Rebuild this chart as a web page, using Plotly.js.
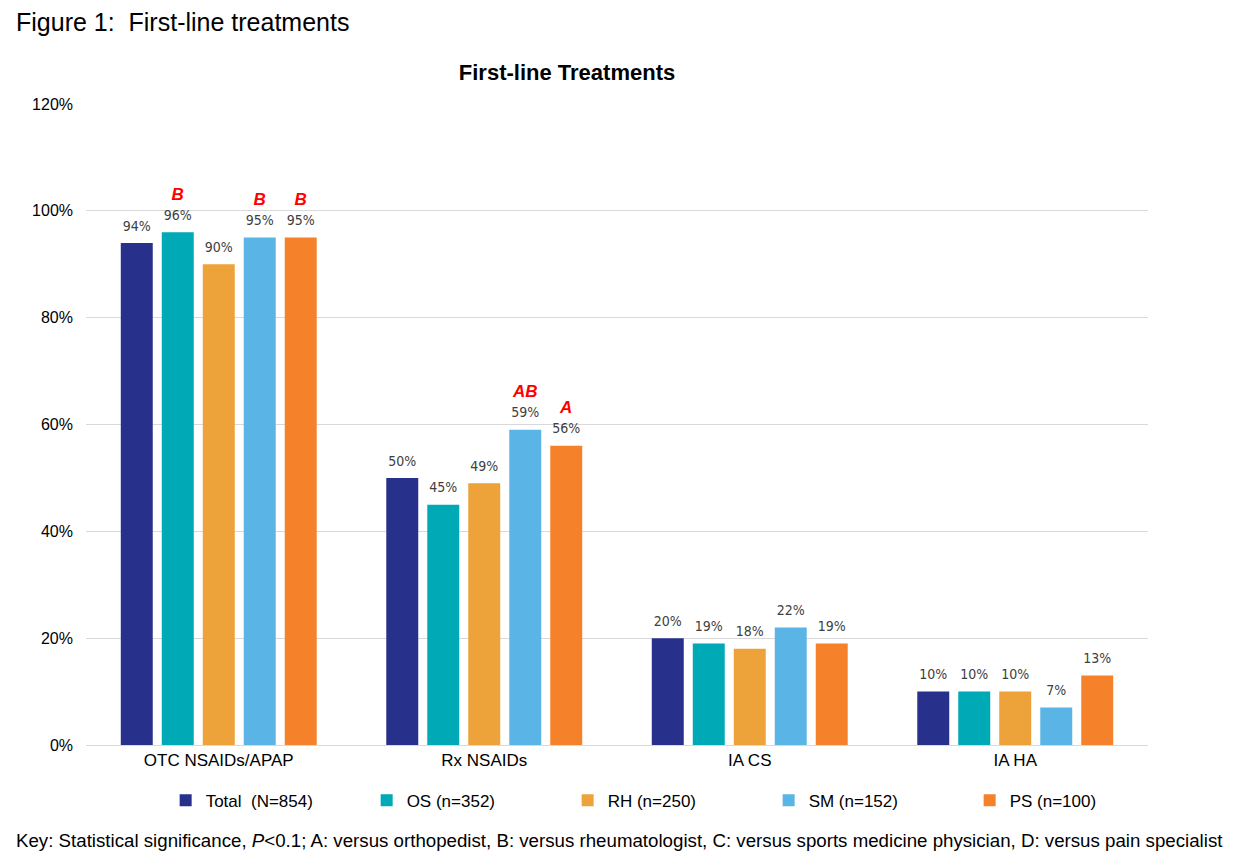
<!DOCTYPE html>
<html>
<head>
<meta charset="utf-8">
<script src="https://cdn.plot.ly/plotly-3.0.1.min.js"></script>
<style>html,body{margin:0;padding:0;background:#fff;}#chart{width:1244px;height:865px;}</style>
</head>
<body>
<div id="chart"></div>
<script>
const categories = ["OTC NSAIDs/APAP", "Rx NSAIDs", "IA CS", "IA HA"];
const seriesNames = ["Total\u00a0 (N=854)", "OS (n=352)", "RH (n=250)", "SM (n=152)", "PS (n=100)"];
const totalVals = [94, 50, 20, 10];
const osVals = [96, 45, 19, 10];
const rhVals = [90, 49, 18, 10];
const smVals = [95, 59, 22, 7];
const psVals = [95, 56, 19, 13];
const totalSig = ["", "", "", ""];
const osSig = ["B", "", "", ""];
const rhSig = ["", "", "", ""];
const smSig = ["B", "AB", "", ""];
const psSig = ["B", "A", "", ""];
const yTickVals = [0, 20, 40, 60, 80, 100, 120];
const yTickText = ["0%", "20%", "40%", "60%", "80%", "100%", "120%"];

const colors = ["#27318B", "#00A9B6", "#EEA23A", "#5AB5E6", "#F5812A"];
const allVals = [totalVals, osVals, rhVals, smVals, psVals];
const allSig = [totalSig, osSig, rhSig, smSig, psSig];

function labelText(v, s) {
  const pct = '<span style="font-size:14px">' + v + '%</span>';
  if (s) {
    return '<span style="color:#FF0000;font-size:17px;font-family:Liberation Sans"><b><i>' + s + '</i></b></span><br>' + pct;
  }
  return pct;
}

const barTraces = allVals.map((vals, i) => ({
  type: 'bar',
  name: seriesNames[i],
  x: categories,
  y: vals,
  offsetgroup: 'g' + i,
  marker: {color: colors[i]},
  hoverinfo: 'skip'
}));

const labelTraces = allVals.map((vals, i) => ({
  type: 'scatter',
  mode: 'markers+text',
  showlegend: false,
  x: categories,
  y: vals,
  offsetgroup: 'g' + i,
  marker: {size: 12, color: 'rgba(0,0,0,0)'},
  text: vals.map((v, j) => labelText(v, allSig[i][j])),
  textposition: 'top center',
  cliponaxis: false,
  textfont: {family: 'Liberation Sans Narrow, Arial Narrow, DejaVu Sans Condensed, sans-serif', size: 15.5, color: '#404040'},
  hoverinfo: 'skip'
}));

const layout = {
  width: 1244,
  height: 865,
  margin: {l: 86, r: 96, t: 104, b: 120},
  paper_bgcolor: '#ffffff',
  plot_bgcolor: '#ffffff',
  font: {family: 'Liberation Sans, Arial, sans-serif', color: '#000000'},
  barmode: 'group',
  bargap: 0.228,
  bargroupgap: 0.22,
  scattermode: 'group',
  scattergap: 0.228,
  showlegend: true,
  hovermode: false,
  title: {
    text: '<b>First-line Treatments</b>',
    font: {size: 22, color: '#000000', family: 'Liberation Sans, Arial, sans-serif'},
    xref: 'container', yref: 'container',
    x: 567 / 1244, xanchor: 'center',
    y: 1 - 72 / 865, yanchor: 'middle'
  },
  xaxis: {
    type: 'category',
    showgrid: false,
    showline: true,
    linecolor: '#D9D9D9',
    linewidth: 1,
    ticks: '',
    tickfont: {size: 17, color: '#000000'},
    fixedrange: true
  },
  yaxis: {
    range: [0, 120],
    tickvals: yTickVals,
    ticktext: yTickText,
    showgrid: true,
    gridcolor: '#D9D9D9',
    gridwidth: 1,
    zeroline: false,
    showline: false,
    ticks: '',
    ticklabelstandoff: 12,
    tickfont: {size: 16, color: '#000000'},
    fixedrange: true
  },
  legend: {
    orientation: 'h',
    x: 0.075, xanchor: 'left',
    y: -0.087, yanchor: 'middle',
    entrywidth: 156,
    entrywidthmode: 'pixels',
    font: {size: 17, color: '#000000'},
    itemclick: false, itemdoubleclick: false,
    traceorder: 'normal'
  },
  annotations: [
    {
      text: 'Figure 1:\u00a0 First-line treatments',
      xref: 'paper', yref: 'paper',
      x: (14 - 86) / 1062, xanchor: 'left',
      y: (745 - 22) / 641, yanchor: 'middle',
      showarrow: false,
      font: {size: 25, color: '#000000'}
    },
    {
      text: 'Key: Statistical significance, <i>P</i>&lt;0.1; A: versus orthopedist, B: versus rheumatologist, C: versus sports medicine physician, D: versus pain specialist',
      xref: 'paper', yref: 'paper',
      x: (14 - 86) / 1062, xanchor: 'left',
      y: (745 - 840) / 641, yanchor: 'middle',
      showarrow: false,
      font: {size: 18.7, color: '#000000'}
    }
  ]
};

Plotly.newPlot('chart', barTraces.concat(labelTraces), layout, {displayModeBar: false, staticPlot: true});
</script>
</body>
</html>
